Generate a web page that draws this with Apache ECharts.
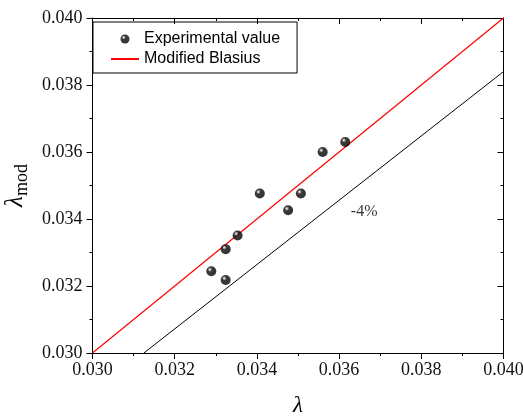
<!DOCTYPE html>
<html>
<head>
<meta charset="utf-8">
<script src="https://cdn.jsdelivr.net/npm/echarts@6/dist/echarts.min.js"></script>
<style>
  html, body { margin: 0; padding: 0; background: #fff; }
  #chart { width: 523px; height: 417px; }
</style>
</head>
<body>
<div id="chart"></div>
<script>
// experimental points: lambda vs lambda_mod
const lambdaExp = [0.03289, 0.03324, 0.03324, 0.03353, 0.03407, 0.03476, 0.03507, 0.03560, 0.03615];
const lambdaMod = [0.03244, 0.03218, 0.03310, 0.03351, 0.03476, 0.03426, 0.03476, 0.03600, 0.03630];

// modified Blasius (y = x) and the -4% line
const blasiusX = [0.030, 0.040];
const blasiusY = [0.030, 0.040];
const minus4X = [0.03125, 0.040];
const minus4Y = [0.030, 0.0384];

// label position for "-4%"
const minus4Label = [0.03661, 0.03421];

const axisMin = 0.030;
const axisMax = 0.040;
const axisStep = 0.002;

const serif = '"Liberation Serif", "Times New Roman", serif';
const sans = '"Liberation Sans", Arial, sans-serif';

const chart = echarts.init(document.getElementById('chart'));

// shiny black ball
const sphere = {
  type: 'radial', x: 0.36, y: 0.33, r: 0.7,
  colorStops: [
    { offset: 0, color: '#ffffff' },
    { offset: 0.12, color: '#aaaaaa' },
    { offset: 0.32, color: '#0a0a0a' },
    { offset: 1, color: '#000000' }
  ]
};

const frameLine = { show: true, lineStyle: { color: '#000', width: 1 } };

function baseAxis(extra) {
  return Object.assign({
    type: 'value',
    min: axisMin,
    max: axisMax,
    interval: axisStep,
    axisLine: frameLine,
    splitLine: { show: false },
    minorSplitLine: { show: false }
  }, extra);
}

const option = {
  backgroundColor: '#fff',
  animation: false,
  grid: { left: 92.5, right: 19.5, top: 18, bottom: 64, containLabel: false, outerBoundsMode: 'none' },
  legend: {
    left: 93,
    top: 22,
    orient: 'vertical',
    padding: [8, 17, 5, 17],
    itemWidth: 28,
    itemHeight: 9,
    itemGap: 2,
    borderColor: '#000',
    borderWidth: 1,
    textStyle: { fontFamily: sans, fontSize: 16, color: '#000', lineHeight: 18 },
    data: [
      { name: 'Experimental value', icon: 'circle' },
      { name: 'Modified Blasius', itemStyle: { opacity: 0 } }
    ]
  },
  xAxis: [
    baseAxis({
      position: 'bottom',
      name: 'λ',
      nameLocation: 'middle',
      nameGap: 41,
      nameTextStyle: { fontFamily: serif, fontSize: 23, fontStyle: 'italic', color: '#000' },
      axisTick: { show: true, inside: false, length: 6, lineStyle: { color: '#000' } },
      minorTick: { show: true, splitNumber: 2, length: 3, lineStyle: { color: '#000' } },
      axisLabel: {
        margin: 8,
        fontFamily: serif, fontSize: 18, color: '#111',
        formatter: v => v.toFixed(3)
      }
    }),
    baseAxis({
      position: 'top',
      axisTick: { show: true, inside: true, length: 6, lineStyle: { color: '#000' } },
      minorTick: { show: true, splitNumber: 2, length: 3, lineStyle: { color: '#000' } },
      axisLabel: { show: false }
    })
  ],
  yAxis: [
    baseAxis({
      position: 'left',
      name: '{l|λ}{s|mod}',
      nameLocation: 'middle',
      nameGap: 53,
      nameRotate: 90,
      nameTextStyle: {
        rich: {
          l: { fontFamily: serif, fontSize: 25, fontStyle: 'italic', color: '#000' },
          s: { fontFamily: serif, fontSize: 18, color: '#000', padding: [14, 0, 0, 0] }
        }
      },
      axisTick: { show: true, inside: false, length: 6, lineStyle: { color: '#000' } },
      minorTick: { show: true, splitNumber: 2, length: 3, lineStyle: { color: '#000' } },
      axisLabel: {
        margin: 10,
        fontFamily: serif, fontSize: 18, color: '#111',
        formatter: v => v.toFixed(3)
      }
    }),
    baseAxis({
      position: 'right',
      axisTick: { show: true, inside: true, length: 6, lineStyle: { color: '#000' } },
      minorTick: { show: true, splitNumber: 2, length: 3, lineStyle: { color: '#000' } },
      axisLabel: { show: false }
    })
  ],
  series: [
    {
      name: 'Modified Blasius',
      type: 'line',
      symbol: 'none',
      data: blasiusX.map((x, i) => [x, blasiusY[i]]),
      lineStyle: { color: '#ff0000', width: 1.2 },
      itemStyle: { color: '#ff0000' },
      z: 2
    },
    {
      name: '-4%',
      type: 'line',
      symbol: 'none',
      data: minus4X.map((x, i) => [x, minus4Y[i]]),
      lineStyle: { color: '#000', width: 1 },
      z: 2
    },
    {
      name: 'label',
      type: 'scatter',
      symbolSize: 0,
      data: [minus4Label],
      label: {
        show: true,
        position: 'inside',
        formatter: '-4%',
        fontFamily: serif,
        fontSize: 16,
        color: '#000'
      },
      silent: true
    },
    {
      name: 'Experimental value',
      type: 'scatter',
      symbol: 'circle',
      symbolSize: 10,
      data: lambdaExp.map((x, i) => [x, lambdaMod[i]]),
      itemStyle: { color: sphere },
      z: 5
    }
  ]
};

chart.setOption(option);
</script>
</body>
</html>
